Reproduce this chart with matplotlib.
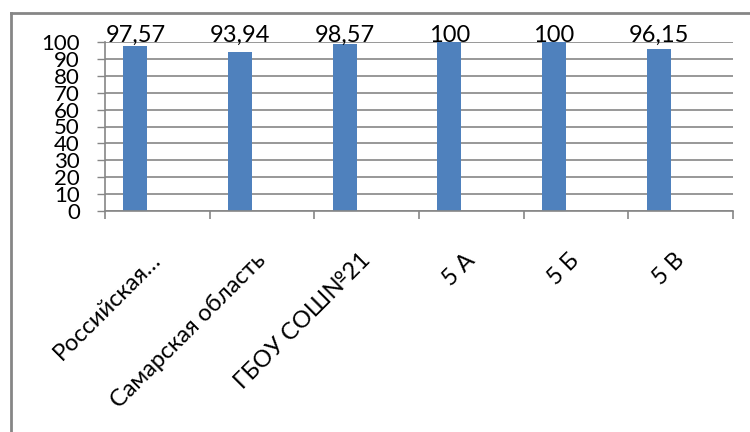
import matplotlib
matplotlib.use('Agg')
import matplotlib.pyplot as plt
import numpy as np
from matplotlib.lines import Line2D
from matplotlib import transforms

categories = ["Российская…", "Самарская область", "ГБОУ СОШ№21", "5 А", "5 Б", "5 В"]
values = [97.57, 93.94, 98.57, 100, 100, 96.15]
value_labels = ["97,57", "93,94", "98,57", "100", "100", "96,15"]
yticks = list(range(0, 101, 10))

plt.rcParams['font.family'] = ['Lato', 'DejaVu Sans']
grey = '#868686'
blue = '#4F81BD'
fs = 16

fig = plt.figure(figsize=(7.5, 4.32), dpi=100)
ax = fig.add_axes([105 / 750, 1 - 211 / 432, 628 / 750, 169 / 432])

x = np.arange(len(categories))
bar_x = x - 0.21
ax.bar(bar_x, values, width=0.23, color=blue, zorder=3)

# value labels sit along the top edge of the plot
trans = transforms.blended_transform_factory(ax.transData, ax.transAxes)
for bx, lab in zip(bar_x, value_labels):
    ax.text(bx, 1.0, lab, transform=trans, ha='center', va='baseline',
            fontsize=fs + 1, color='black', zorder=4)

ax.set_xlim(-0.5, len(categories) - 0.5)
ax.set_ylim(0, 100)
ax.set_yticks(yticks)
ax.set_yticklabels([str(t) for t in yticks], fontsize=fs)
ax.yaxis.grid(True, color=grey, linewidth=1.2, zorder=0)
ax.tick_params(axis='y', length=6, width=1, color=grey, pad=12)

# boundaries get the tick marks, centres get the labels
ax.set_xticks(np.arange(len(categories) + 1) - 0.5)
ax.set_xticklabels([])
ax.tick_params(axis='x', which='major', length=6, width=1.2, color=grey)
ax.set_xticks(x, minor=True)
ax.set_xticklabels(categories, minor=True, rotation=45, ha='right', va='center',
                   rotation_mode='anchor', fontsize=17)
ax.tick_params(axis='x', which='minor', length=0, pad=33)

for side in ['top', 'right']:
    ax.spines[side].set_visible(False)
for side in ['left', 'bottom']:
    ax.spines[side].set_color(grey)
    ax.spines[side].set_linewidth(1.2)
ax.spines['bottom'].set_zorder(5)

# outer chart frame
fx0 = 11 / 750
fy1 = 1 - 13 / 432
fig.add_artist(Line2D([fx0, fx0], [0, fy1], color=grey, linewidth=2, transform=fig.transFigure))
fig.add_artist(Line2D([fx0, 1], [fy1, fy1], color=grey, linewidth=2, transform=fig.transFigure))

fig.savefig('out.png', dpi=100)
